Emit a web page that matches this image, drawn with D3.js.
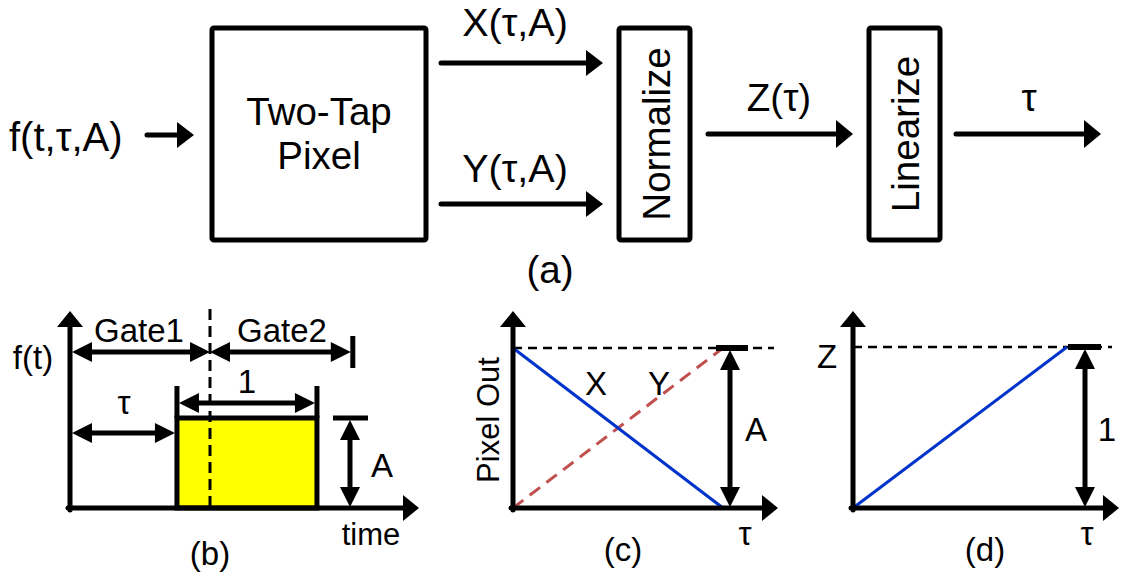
<!DOCTYPE html>
<html><head><meta charset="utf-8">
<script src="https://cdn.jsdelivr.net/npm/d3@7"></script>
<style>body{margin:0;background:#fff}</style>
</head><body>
<svg id="c" width="1128" height="575"></svg>
<script>
// ---------- data ----------
const blockLabels = [["Two-Tap", "Pixel"], ["Normalize"], ["Linearize"]];
const signalLabels = ["f(t,τ,A)", "X(τ,A)", "Y(τ,A)", "Z(τ)", "τ"];
const panelLabels = ["(a)", "(b)", "(c)", "(d)"];
const gateLabels = ["Gate1", "Gate2"];
const gateBounds = [0, 1, 2.02];     // gate edges in time units
const pulseStart = 0.764;            // τ
const pulseWidth = 1;                // pulse length
const pulseAmp = 1;                  // A
const tauValues = [0, 1];
const xValues = [1, 0];
const yValues = [0, 1];
const zValues = [0, 1];

// ---------- helpers ----------
const svg = d3.select("#c");
const FONT = "'Liberation Sans', Arial, sans-serif";

function head(x, y, ang, len, hw) {
  const c = Math.cos(ang), s = Math.sin(ang);
  const bx = x - c * len, by = y - s * len;
  return [[x, y], [bx - s * hw, by + c * hw], [bx + s * hw, by - c * hw]];
}
function arrow(x1, y1, x2, y2, o = {}) {
  const len = o.len || 16, hw = o.hw || 13, w = o.w || 5, both = !!o.both;
  const ang = Math.atan2(y2 - y1, x2 - x1);
  const c = Math.cos(ang), s = Math.sin(ang);
  const sx = both ? x1 + c * (len - 1) : x1, sy = both ? y1 + s * (len - 1) : y1;
  const ex = x2 - c * (len - 1), ey = y2 - s * (len - 1);
  svg.append("line").attr("x1", sx).attr("y1", sy).attr("x2", ex).attr("y2", ey)
    .attr("stroke", "#000").attr("stroke-width", w)
    .attr("stroke-linecap", both ? "butt" : "round");
  svg.append("polygon").attr("points", head(x2, y2, ang, len, hw).join(" ")).attr("fill", "#000");
  if (both) svg.append("polygon").attr("points", head(x1, y1, ang + Math.PI, len, hw).join(" ")).attr("fill", "#000");
}
function line(x1, y1, x2, y2, w = 5, dash = null, color = "#000") {
  const l = svg.append("line").attr("x1", x1).attr("y1", y1).attr("x2", x2).attr("y2", y2)
    .attr("stroke", color).attr("stroke-width", w);
  if (dash) l.attr("stroke-dasharray", dash);
  return l;
}
function text(t, x, y, size, anchor = "middle", rot = 0) {
  const el = svg.append("text").attr("font-family", FONT).attr("font-size", size)
    .attr("text-anchor", anchor).attr("fill", "#000").text(t);
  if (rot) el.attr("transform", `translate(${x},${y}) rotate(${rot})`).attr("dominant-baseline", "central");
  else el.attr("x", x).attr("y", y);
  return el;
}
function box(x1, y1, x2, y2) {
  svg.append("rect").attr("x", x1).attr("y", y1).attr("width", x2 - x1).attr("height", y2 - y1)
    .attr("fill", "none").attr("stroke", "#000").attr("stroke-width", 5).attr("rx", 2);
}

// ---------- (a) block diagram ----------
const TOPF = 38.5;
text(signalLabels[0], 9, 151, 40, "start");
arrow(147, 135, 194, 135, { len: 17, hw: 13 });
box(212, 28, 426, 240);
text(blockLabels[0][0], 319, 125, TOPF);
text(blockLabels[0][1], 319, 169, TOPF);
text(signalLabels[1], 515, 36, 39.5);
arrow(441, 63, 603, 63, { len: 17, hw: 13 });
text(signalLabels[2], 515, 182, 39.5);
arrow(441, 204, 603, 204, { len: 17, hw: 13 });
box(619, 28, 690, 240);
text(blockLabels[1][0], 656, 134, TOPF, "middle", -90);
text(signalLabels[3], 779, 111, TOPF);
arrow(708, 134, 853, 134, { len: 17, hw: 14 });
box(869, 28, 940, 240);
text(blockLabels[2][0], 905, 134, TOPF, "middle", -90);
text(signalLabels[4], 1029, 111, TOPF);
arrow(956, 134, 1101, 134, { len: 17, hw: 14 });
text(panelLabels[0], 550, 283, TOPF);

const BF = 33;
// ---------- (b) pulse ----------
const tb = d3.scaleLinear().domain([0, 1]).range([70, 210]);
const ab = d3.scaleLinear().domain([0, 1]).range([508, 418]);
svg.append("rect").attr("x", tb(pulseStart)).attr("y", ab(pulseAmp))
  .attr("width", tb(pulseStart + pulseWidth) - tb(pulseStart)).attr("height", ab(0) - ab(pulseAmp))
  .attr("fill", "#FFFF00").attr("stroke", "#000").attr("stroke-width", 5);
line(tb(pulseStart), ab(pulseAmp), tb(pulseStart), 386, 5);
line(tb(pulseStart + pulseWidth), ab(pulseAmp), tb(pulseStart + pulseWidth), 386, 5);
line(tb(gateBounds[1]), 309, tb(gateBounds[1]), 508, 3, "11,6");
arrow(70, 510, 70, 311, { len: 16, hw: 13, w: 5 });
arrow(68, 508, 419, 508, { len: 16, hw: 13, w: 5 });
arrow(tb(gateBounds[0]) + 2, 352, tb(gateBounds[1]), 352, { both: true, len: 20, hw: 10, w: 5 });
arrow(tb(gateBounds[1]), 352, tb(gateBounds[2]) - 2, 352, { both: true, len: 20, hw: 10, w: 5 });
line(tb(gateBounds[2]), 336, tb(gateBounds[2]), 368, 5);
text(gateLabels[0], 139, 342, BF);
text(gateLabels[1], 282, 342, BF);
arrow(tb(0) + 2, 433, tb(pulseStart) - 2, 433, { both: true, len: 20, hw: 10, w: 5 });
text(signalLabels[4], 124, 414, BF);
arrow(tb(pulseStart) + 2, 403, tb(pulseStart + pulseWidth) - 2, 403, { both: true, len: 20, hw: 10, w: 5 });
text("1", tb(pulseStart + pulseWidth / 2), 393, BF);
line(333, ab(pulseAmp), 368, ab(pulseAmp), 5);
arrow(350, ab(pulseAmp) + 2, 350, ab(0) - 1, { both: true, len: 20, hw: 10, w: 5 });
text("A", 382, 477, BF);
text("f(t)", 33, 369, BF);
text("time", 371, 545, BF - 2);
text(panelLabels[1], 210, 565, BF);

// ---------- (c) pixel out ----------
const xc = d3.scaleLinear().domain([0, 1]).range([513, 723]);
const yc = d3.scaleLinear().domain([0, 1]).range([508, 348]);
line(xc(0), yc(1), 774, yc(1), 2.5, "9,6");
const lc = d3.line().x(d => xc(d[0])).y(d => yc(d[1]));
svg.append("path").attr("d", lc(d3.zip(tauValues, yValues))).attr("fill", "none")
  .attr("stroke", "#C0504D").attr("stroke-width", 3).attr("stroke-dasharray", "13,8");
svg.append("path").attr("d", lc(d3.zip(tauValues, xValues))).attr("fill", "none")
  .attr("stroke", "#0033CC").attr("stroke-width", 3);
arrow(xc(0), 510, xc(0), 311, { len: 16, hw: 13, w: 5 });
arrow(xc(0) - 2, 508, 778, 508, { len: 16, hw: 13, w: 5 });
line(716, yc(1), 748, yc(1), 6);
arrow(730, yc(1) + 2, 730, yc(0) - 1, { both: true, len: 20, hw: 10, w: 5 });
text("A", 756, 441, BF);
text("X", 596, 395, BF);
text("Y", 659, 395, BF);
text("Pixel Out", 488, 420, BF - 2, "middle", -90);
text(signalLabels[4], 745, 545, BF);
text(panelLabels[2], 623, 561, BF);

// ---------- (d) normalized ----------
const xd = d3.scaleLinear().domain([0, 1]).range([853, 1067]);
const yd = d3.scaleLinear().domain([0, 1]).range([508, 347]);
line(xd(0), yd(1), 1112, yd(1), 2.5, "9,6");
const ld = d3.line().x(d => xd(d[0])).y(d => yd(d[1]));
svg.append("path").attr("d", ld(d3.zip(tauValues, zValues))).attr("fill", "none")
  .attr("stroke", "#0033CC").attr("stroke-width", 3);
arrow(xd(0), 510, xd(0), 311, { len: 16, hw: 13, w: 5 });
arrow(xd(0) - 2, 508, 1119, 508, { len: 16, hw: 13, w: 5 });
line(1068, yd(1), 1101, yd(1), 6);
arrow(1085, yd(1) + 2, 1085, yd(0) - 1, { both: true, len: 20, hw: 10, w: 5 });
text("1", 1107, 441, BF);
text("Z", 827, 368, BF);
text(signalLabels[4], 1087, 545, BF);
text(panelLabels[3], 985, 561, BF);
</script>
</body></html>
